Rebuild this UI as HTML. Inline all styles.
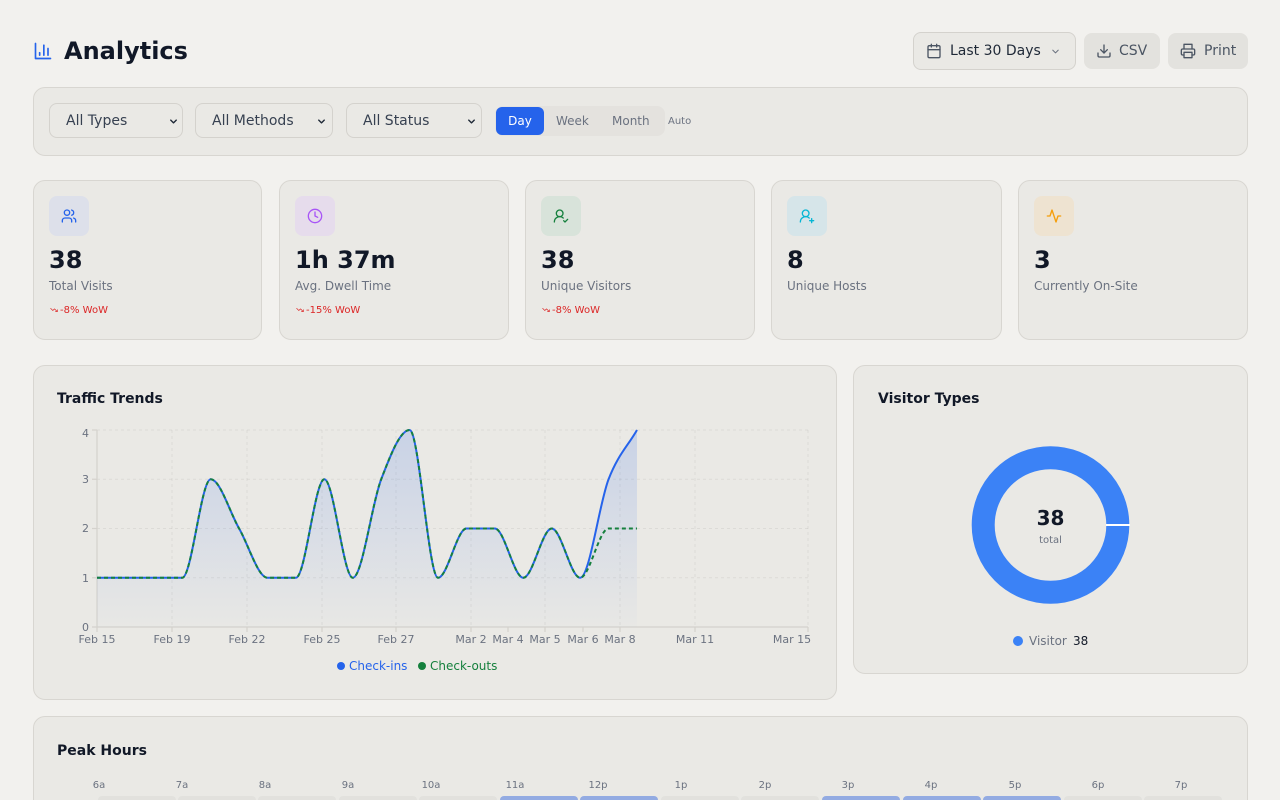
<!DOCTYPE html>
<html><head><meta charset="utf-8">
<style>
*{margin:0;padding:0;box-sizing:border-box}
html,body{width:1280px;height:800px;overflow:hidden;background:#f2f1ee;font-family:"DejaVu Sans","Liberation Sans",sans-serif;color:#111827}
#wrap{position:relative;width:1280px;height:800px;overflow:hidden}
.a{position:absolute}
.t{position:absolute;white-space:nowrap;line-height:1}
.card{position:absolute;background:#eae9e5;border:1px solid #d8d6d1;border-radius:12px}
.sel{position:absolute;top:103px;height:35px;border:1px solid #d4d2cd;border-radius:8px;background:#eae9e5}
.ib{position:absolute;top:15px;left:15px;width:40px;height:40px;border-radius:8px}
.ib svg{position:absolute;left:12px;top:12px}
.val{position:absolute;left:15px;top:67px;font-size:24px;font-weight:bold;line-height:1;color:#111827}
.lab{position:absolute;left:15px;top:99px;font-size:12px;line-height:1;color:#6b7280;white-space:nowrap}
.wow{position:absolute;left:15px;top:125px;font-size:10px;line-height:1;color:#dc2626;white-space:nowrap}
.wow svg{vertical-align:-1px;margin-right:1px}
.cell{position:absolute;top:796px;width:78px;height:30px;border-radius:4px;background:#e2e1dd}
.cell.h{background:#93abe2}
.pl{position:absolute;top:781px;font-size:10px;line-height:1;color:#6b7280;width:30px;text-align:center;margin-left:-15px}
</style></head><body><div id="wrap">

<svg class="a" style="left:33px;top:41px" width="20" height="20" viewBox="0 0 24 24" fill="none" stroke="#2563eb" stroke-width="2" stroke-linecap="round" stroke-linejoin="round"><path d="M3 3v18h18"/><path d="M18 17V9"/><path d="M13 17V5"/><path d="M8 17v-3"/></svg>
<div class="t" style="left:64px;top:39px;font-size:24px;font-weight:bold;color:#111827">Analytics</div>

<div class="a" style="left:913px;top:32px;width:163px;height:38px;border:1px solid #d4d2cd;border-radius:8px;background:#eae9e5"></div>
<svg class="a" style="left:926px;top:43px" width="16" height="16" viewBox="0 0 24 24" fill="none" stroke="#4b5563" stroke-width="2" stroke-linecap="round" stroke-linejoin="round"><rect x="3" y="4" width="18" height="18" rx="2"/><path d="M16 2v4M8 2v4M3 10h18"/></svg>
<div class="t" style="left:950px;top:44px;font-size:14px;color:#1f2937">Last 30 Days</div>
<svg class="a" style="left:1050px;top:46px" width="11" height="11" viewBox="0 0 24 24" fill="none" stroke="#6b7280" stroke-width="2.2" stroke-linecap="round" stroke-linejoin="round"><path d="M6 9l6 6 6-6"/></svg>

<div class="a" style="left:1084px;top:33px;width:76px;height:36px;border-radius:8px;background:#e3e2de"></div>
<svg class="a" style="left:1096px;top:43px" width="16" height="16" viewBox="0 0 24 24" fill="none" stroke="#4b5563" stroke-width="2" stroke-linecap="round" stroke-linejoin="round"><path d="M21 15v4a2 2 0 0 1-2 2H5a2 2 0 0 1-2-2v-4"/><path d="M7 10l5 5 5-5"/><path d="M12 15V3"/></svg>
<div class="t" style="left:1119px;top:44px;font-size:14px;color:#4b5563">CSV</div>

<div class="a" style="left:1168px;top:33px;width:80px;height:36px;border-radius:8px;background:#e3e2de"></div>
<svg class="a" style="left:1180px;top:43px" width="16" height="16" viewBox="0 0 24 24" fill="none" stroke="#4b5563" stroke-width="2" stroke-linecap="round" stroke-linejoin="round"><path d="M6 9V2h12v7"/><path d="M6 18H4a2 2 0 0 1-2-2v-5a2 2 0 0 1 2-2h16a2 2 0 0 1 2 2v5a2 2 0 0 1-2 2h-2"/><rect x="6" y="14" width="12" height="8"/></svg>
<div class="t" style="left:1204px;top:44px;font-size:14px;color:#4b5563">Print</div>

<div class="card" style="left:33px;top:87px;width:1215px;height:69px"></div>
<div class="sel" style="left:49px;width:134px"></div>
<div class="t" style="left:66px;top:114px;font-size:14px;color:#374151">All Types</div>
<svg class="a" style="left:168px;top:116px" width="11" height="11" viewBox="0 0 24 24" fill="none" stroke="#1f2937" stroke-width="3" stroke-linecap="round" stroke-linejoin="round"><path d="M6 9l6 6 6-6"/></svg>
<div class="sel" style="left:195px;width:138px"></div>
<div class="t" style="left:212px;top:114px;font-size:14px;color:#374151">All Methods</div>
<svg class="a" style="left:316px;top:116px" width="11" height="11" viewBox="0 0 24 24" fill="none" stroke="#1f2937" stroke-width="3" stroke-linecap="round" stroke-linejoin="round"><path d="M6 9l6 6 6-6"/></svg>
<div class="sel" style="left:346px;width:136px"></div>
<div class="t" style="left:363px;top:114px;font-size:14px;color:#374151">All Status</div>
<svg class="a" style="left:466px;top:116px" width="11" height="11" viewBox="0 0 24 24" fill="none" stroke="#1f2937" stroke-width="3" stroke-linecap="round" stroke-linejoin="round"><path d="M6 9l6 6 6-6"/></svg>

<div class="a" style="left:495px;top:106px;width:170px;height:30px;border-radius:8px;background:#e4e2de"></div>
<div class="a" style="left:496px;top:107px;width:48px;height:28px;border-radius:6px;background:#2563eb"></div>
<div class="t" style="left:496px;top:115px;width:48px;text-align:center;font-size:12px;color:#fff">Day</div>
<div class="t" style="left:556px;top:115px;font-size:12px;color:#6b7280">Week</div>
<div class="t" style="left:612px;top:115px;font-size:12px;color:#6b7280">Month</div>
<div class="t" style="left:668px;top:117px;font-size:10px;color:#6b7280">Auto</div>

<div class="card" style="left:33px;top:180px;width:229px;height:160px">
  <div class="ib" style="background:#dde0ea"><svg width="16" height="16" viewBox="0 0 24 24" fill="none" stroke="#2563eb" stroke-width="2" stroke-linecap="round" stroke-linejoin="round"><path d="M16 21v-2a4 4 0 0 0-4-4H6a4 4 0 0 0-4 4v2"/><circle cx="9" cy="7" r="4"/><path d="M22 21v-2a4 4 0 0 0-3-3.87"/><path d="M16 3.13a4 4 0 0 1 0 7.75"/></svg></div>
  <div class="val">38</div><div class="lab">Total Visits</div>
  <div class="wow"><svg width="10" height="8" viewBox="0 0 24 24" fill="none" stroke="#dc2626" stroke-width="2" stroke-linecap="round" stroke-linejoin="round"><path d="M22 17l-8.5-8.5-5 5L2 7"/><path d="M16 17h6v-6"/></svg>-8% WoW</div>
</div>
<div class="card" style="left:279px;top:180px;width:230px;height:160px">
  <div class="ib" style="background:#e6dcec"><svg width="16" height="16" viewBox="0 0 24 24" fill="none" stroke="#a855f7" stroke-width="2" stroke-linecap="round" stroke-linejoin="round"><circle cx="12" cy="12" r="10"/><path d="M12 6v6l4 2"/></svg></div>
  <div class="val">1h 37m</div><div class="lab">Avg. Dwell Time</div>
  <div class="wow"><svg width="10" height="8" viewBox="0 0 24 24" fill="none" stroke="#dc2626" stroke-width="2" stroke-linecap="round" stroke-linejoin="round"><path d="M22 17l-8.5-8.5-5 5L2 7"/><path d="M16 17h6v-6"/></svg>-15% WoW</div>
</div>
<div class="card" style="left:525px;top:180px;width:230px;height:160px">
  <div class="ib" style="background:#d8e3da"><svg width="16" height="16" viewBox="0 0 24 24" fill="none" stroke="#15803d" stroke-width="2" stroke-linecap="round" stroke-linejoin="round"><path d="M2 21a8 8 0 0 1 13.3-6"/><circle cx="10" cy="8" r="5"/><path d="M16 19l2 2 4-4"/></svg></div>
  <div class="val">38</div><div class="lab">Unique Visitors</div>
  <div class="wow"><svg width="10" height="8" viewBox="0 0 24 24" fill="none" stroke="#dc2626" stroke-width="2" stroke-linecap="round" stroke-linejoin="round"><path d="M22 17l-8.5-8.5-5 5L2 7"/><path d="M16 17h6v-6"/></svg>-8% WoW</div>
</div>
<div class="card" style="left:771px;top:180px;width:231px;height:160px">
  <div class="ib" style="background:#d6e5e9"><svg width="16" height="16" viewBox="0 0 24 24" fill="none" stroke="#06b6d4" stroke-width="2" stroke-linecap="round" stroke-linejoin="round"><path d="M2 21a8 8 0 0 1 13.3-6"/><circle cx="10" cy="8" r="5"/><path d="M19 16v6M22 19h-6"/></svg></div>
  <div class="val">8</div><div class="lab">Unique Hosts</div>
</div>
<div class="card" style="left:1018px;top:180px;width:230px;height:160px">
  <div class="ib" style="background:#eee3d1"><svg width="16" height="16" viewBox="0 0 24 24" fill="none" stroke="#f59e0b" stroke-width="2" stroke-linecap="round" stroke-linejoin="round"><path d="M22 12h-4l-3 9L9 3l-3 9H2"/></svg></div>
  <div class="val">3</div><div class="lab">Currently On-Site</div>
</div>

<div class="card" style="left:33px;top:365px;width:804px;height:335px"></div>
<div class="t" style="left:57px;top:392px;font-size:14px;font-weight:bold;color:#111827">Traffic Trends</div>
<div class="card" style="left:853px;top:365px;width:395px;height:309px"></div>
<div class="t" style="left:878px;top:392px;font-size:14px;font-weight:bold;color:#111827">Visitor Types</div>

<svg class="a" style="left:0;top:0" width="1280" height="800" viewBox="0 0 1280 800">
  <defs>
    <linearGradient id="g" x1="0" y1="430" x2="0" y2="627" gradientUnits="userSpaceOnUse">
      <stop offset="0" stop-color="#2563eb" stop-opacity="0.17"/>
      <stop offset="1" stop-color="#2563eb" stop-opacity="0.01"/>
    </linearGradient>
  </defs>
  <g stroke="#000" stroke-opacity="0.06" stroke-width="1" stroke-dasharray="3,3">
    <line x1="97" y1="430" x2="808" y2="430"/>
    <line x1="97" y1="479.25" x2="808" y2="479.25"/>
    <line x1="97" y1="528.5" x2="808" y2="528.5"/>
    <line x1="97" y1="577.75" x2="808" y2="577.75"/>
    <line x1="172" y1="430" x2="172" y2="627"/>
    <line x1="247" y1="430" x2="247" y2="627"/>
    <line x1="322" y1="430" x2="322" y2="627"/>
    <line x1="396" y1="430" x2="396" y2="627"/>
    <line x1="471" y1="430" x2="471" y2="627"/>
    <line x1="545" y1="430" x2="545" y2="627"/>
    <line x1="620" y1="430" x2="620" y2="627"/>
    <line x1="695" y1="430" x2="695" y2="627"/>
    <line x1="808" y1="430" x2="808" y2="627"/>
  </g>
  <g stroke="#d4d2cd" stroke-width="1.2">
    <line x1="97" y1="430" x2="97" y2="627"/>
    <line x1="92" y1="627" x2="808" y2="627"/>
    <line x1="92" y1="430" x2="97" y2="430"/>
    <line x1="92" y1="479.25" x2="97" y2="479.25"/>
    <line x1="92" y1="528.5" x2="97" y2="528.5"/>
    <line x1="92" y1="577.75" x2="97" y2="577.75"/>
    <line x1="97" y1="627" x2="97" y2="632"/>
    <line x1="172" y1="627" x2="172" y2="632"/>
    <line x1="247" y1="627" x2="247" y2="632"/>
    <line x1="322" y1="627" x2="322" y2="632"/>
    <line x1="396" y1="627" x2="396" y2="632"/>
    <line x1="471" y1="627" x2="471" y2="632"/>
    <line x1="508" y1="627" x2="508" y2="632"/>
    <line x1="545" y1="627" x2="545" y2="632"/>
    <line x1="583" y1="627" x2="583" y2="632"/>
    <line x1="620" y1="627" x2="620" y2="632"/>
    <line x1="695" y1="627" x2="695" y2="632"/>
    <line x1="808" y1="627" x2="808" y2="632"/>
  </g>
  <g font-family="DejaVu Sans, Liberation Sans, sans-serif" font-size="11" fill="#6b7280">
    <text x="89" y="437" text-anchor="end">4</text>
    <text x="89" y="483" text-anchor="end">3</text>
    <text x="89" y="532" text-anchor="end">2</text>
    <text x="89" y="582" text-anchor="end">1</text>
    <text x="89" y="631" text-anchor="end">0</text>
    <text x="97" y="643" text-anchor="middle">Feb 15</text>
    <text x="172" y="643" text-anchor="middle">Feb 19</text>
    <text x="247" y="643" text-anchor="middle">Feb 22</text>
    <text x="322" y="643" text-anchor="middle">Feb 25</text>
    <text x="396" y="643" text-anchor="middle">Feb 27</text>
    <text x="471" y="643" text-anchor="middle">Mar 2</text>
    <text x="508" y="643" text-anchor="middle">Mar 4</text>
    <text x="545" y="643" text-anchor="middle">Mar 5</text>
    <text x="583" y="643" text-anchor="middle">Mar 6</text>
    <text x="620" y="643" text-anchor="middle">Mar 8</text>
    <text x="695" y="643" text-anchor="middle">Mar 11</text>
    <text x="792" y="643" text-anchor="middle">Mar 15</text>
  </g>
  <path fill="url(#g)" d="M97,577.75 L182.26,577.75 C191.73,577.75 201.21,479.25 210.68,479.25 C220.15,479.25 229.63,512.08 239.10,528.5 C248.57,544.92 258.05,577.75 267.52,577.75 L295.94,577.75 C305.41,577.75 314.89,479.25 324.36,479.25 C333.83,479.25 343.31,577.75 352.78,577.75 C362.25,577.75 371.73,503.88 381.20,479.25 C390.67,454.63 400.15,430 409.62,430 C419.09,430 428.57,577.75 438.04,577.75 C447.51,577.75 456.99,528.5 466.46,528.5 L494.88,528.5 C504.35,528.5 513.83,577.75 523.30,577.75 C532.77,577.75 542.25,528.5 551.72,528.5 C561.19,528.5 570.67,577.75 580.14,577.75 C589.61,577.75 599.09,503.88 608.56,479.25 C618.03,454.63 627.51,446.42 636.98,430 L636.98,627 L97,627 Z"/>
  <path fill="none" stroke="#2563eb" stroke-width="2" stroke-linejoin="round" d="M97,577.75 L182.26,577.75 C191.73,577.75 201.21,479.25 210.68,479.25 C220.15,479.25 229.63,512.08 239.10,528.5 C248.57,544.92 258.05,577.75 267.52,577.75 L295.94,577.75 C305.41,577.75 314.89,479.25 324.36,479.25 C333.83,479.25 343.31,577.75 352.78,577.75 C362.25,577.75 371.73,503.88 381.20,479.25 C390.67,454.63 400.15,430 409.62,430 C419.09,430 428.57,577.75 438.04,577.75 C447.51,577.75 456.99,528.5 466.46,528.5 L494.88,528.5 C504.35,528.5 513.83,577.75 523.30,577.75 C532.77,577.75 542.25,528.5 551.72,528.5 C561.19,528.5 570.67,577.75 580.14,577.75 C589.61,577.75 599.09,503.88 608.56,479.25 C618.03,454.63 627.51,446.42 636.98,430"/>
  <path fill="none" stroke="#15803d" stroke-width="2" stroke-dasharray="4,3" stroke-linejoin="round" d="M97,577.75 L182.26,577.75 C191.73,577.75 201.21,479.25 210.68,479.25 C220.15,479.25 229.63,512.08 239.10,528.5 C248.57,544.92 258.05,577.75 267.52,577.75 L295.94,577.75 C305.41,577.75 314.89,479.25 324.36,479.25 C333.83,479.25 343.31,577.75 352.78,577.75 C362.25,577.75 371.73,503.88 381.20,479.25 C390.67,454.63 400.15,430 409.62,430 C419.09,430 428.57,577.75 438.04,577.75 C447.51,577.75 456.99,528.5 466.46,528.5 L494.88,528.5 C504.35,528.5 513.83,577.75 523.30,577.75 C532.77,577.75 542.25,528.5 551.72,528.5 C561.19,528.5 570.67,577.75 580.14,577.75 C589.61,577.75 599.09,528.5 608.56,528.5 L636.98,528.5"/>
  <circle cx="341" cy="666" r="4" fill="#2563eb"/>
  <text x="349" y="670" font-family="DejaVu Sans, Liberation Sans, sans-serif" font-size="12" fill="#2563eb">Check-ins</text>
  <circle cx="422" cy="666" r="4" fill="#15803d"/>
  <text x="430" y="670" font-family="DejaVu Sans, Liberation Sans, sans-serif" font-size="12" fill="#15803d">Check-outs</text>

  <circle cx="1050.5" cy="525" r="67.3" fill="none" stroke="#3b82f6" stroke-width="23"/>
  <line x1="1106" y1="525" x2="1130" y2="525" stroke="#ffffff" stroke-width="2"/>
  <text x="1050.5" y="525" text-anchor="middle" font-family="DejaVu Sans, Liberation Sans, sans-serif" font-size="20" font-weight="bold" fill="#111827">38</text>
  <text x="1050.5" y="543" text-anchor="middle" font-family="DejaVu Sans, Liberation Sans, sans-serif" font-size="10" fill="#6b7280">total</text>
  <circle cx="1018" cy="641" r="5" fill="#3b82f6"/>
  <text x="1029" y="645" font-family="DejaVu Sans, Liberation Sans, sans-serif" font-size="12" fill="#6b7280">Visitor</text>
  <text x="1073" y="645" font-family="DejaVu Sans, Liberation Sans, sans-serif" font-size="12" fill="#111827">38</text>
</svg>

<div class="card" style="left:33px;top:716px;width:1215px;height:120px"></div>
<div class="t" style="left:57px;top:744px;font-size:14px;font-weight:bold;color:#111827">Peak Hours</div>
<div class="pl" style="left:99px">6a</div>
<div class="pl" style="left:182px">7a</div>
<div class="pl" style="left:265px">8a</div>
<div class="pl" style="left:348px">9a</div>
<div class="pl" style="left:431px">10a</div>
<div class="pl" style="left:515px">11a</div>
<div class="pl" style="left:598px">12p</div>
<div class="pl" style="left:681px">1p</div>
<div class="pl" style="left:765px">2p</div>
<div class="pl" style="left:848px">3p</div>
<div class="pl" style="left:931px">4p</div>
<div class="pl" style="left:1015px">5p</div>
<div class="pl" style="left:1098px">6p</div>
<div class="pl" style="left:1181px">7p</div>

<div class="cell" style="left:98px"></div>
<div class="cell" style="left:178px"></div>
<div class="cell" style="left:258px"></div>
<div class="cell" style="left:339px"></div>
<div class="cell" style="left:419px"></div>
<div class="cell h" style="left:500px"></div>
<div class="cell h" style="left:580px"></div>
<div class="cell" style="left:661px"></div>
<div class="cell" style="left:741px"></div>
<div class="cell h" style="left:822px"></div>
<div class="cell h" style="left:903px"></div>
<div class="cell h" style="left:983px"></div>
<div class="cell" style="left:1064px"></div>
<div class="cell" style="left:1144px"></div>

</div></body></html>
